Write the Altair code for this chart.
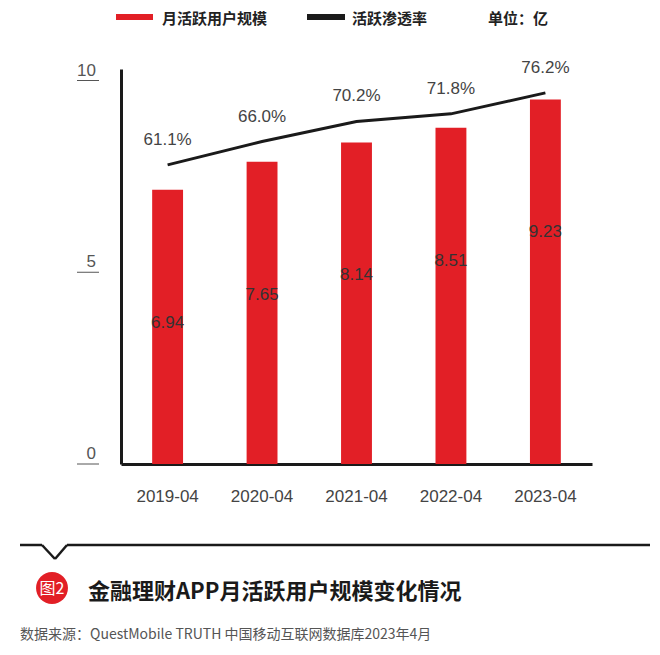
import altair as alt
import pandas as pd

months = ["2019-04", "2020-04", "2021-04", "2022-04", "2023-04"]
mau = [6.94, 7.65, 8.14, 8.51, 9.23]
penetration = [61.1, 66.0, 70.2, 71.8, 76.2]
y_ticks = [0, 5, 10]
legend_labels = ["月活跃用户规模", "活跃渗透率"]
unit_label = "单位：亿"
badge_text = "图2"
title_text = "金融理财APP月活跃用户规模变化情况"
source_text = "数据来源：QuestMobile TRUTH 中国移动互联网数据库2023年4月"

RED = "#E21F26"
BLACK = "#1a1a1a"
CJK = "Noto Sans CJK SC"
NUM = "Liberation Sans"

df = pd.DataFrame({"month": months, "mau": mau, "pen": penetration})
df["mau_label"] = [f"{v:.2f}" for v in mau]
df["pen_label"] = [f"{v:.1f}%" for v in penetration]

xenc = alt.X(
    "month:N", sort=months,
    scale=alt.Scale(paddingInner=0.673, paddingOuter=0.33),
    axis=alt.Axis(title=None, ticks=False, tickSize=0, labelPadding=24, labelAngle=0,
                  labelFont=NUM, labelFontSize=17, labelColor="#444",
                  domainColor=BLACK, domainWidth=3, grid=False),
)

bar_scale = alt.Scale(domain=[0, 10])
base = alt.Chart(df)

bars = base.mark_bar(color=RED).encode(
    x=xenc,
    y=alt.Y("mau:Q", scale=bar_scale,
            axis=alt.Axis(title=None, labels=False, ticks=False, grid=False,
                          domainColor=BLACK, domainWidth=3)),
)
bar_text = base.mark_text(font=NUM, fontSize=17, color="#333", baseline="middle", dy=133).encode(
    x=xenc,
    y=alt.Y("mau:Q", scale=bar_scale, axis=None),
    text="mau_label:N",
)

line_scale = alt.Scale(domain=[-1.6, 81.2])
line = base.mark_line(color=BLACK, strokeWidth=3).encode(
    x=xenc,
    y=alt.Y("pen:Q", scale=line_scale, axis=None),
)
line_text = base.mark_text(font=NUM, fontSize=17, color="#444", baseline="middle", dy=-25).encode(
    x=xenc,
    y=alt.Y("pen:Q", scale=line_scale, axis=None),
    text="pen_label:N",
)

# custom y tick labels with underline
tick_df = pd.DataFrame({"v": y_ticks, "t": [str(v) for v in y_ticks]})
tick_scale = alt.Scale(domain=[0, 10.3])
tick_text = alt.Chart(tick_df).mark_text(font=NUM, fontSize=17, color="#555",
                                         align="right", baseline="middle", dy=-10).encode(
    x=alt.value(-25),
    y=alt.Y("v:Q", scale=tick_scale, axis=None),
    text="t:N",
)
tick_rule = alt.Chart(tick_df).mark_rule(color="#555", strokeWidth=1).encode(
    x=alt.value(-44), x2=alt.value(-22),
    y=alt.Y("v:Q", scale=tick_scale, axis=None),
)

one = pd.DataFrame({"a": [0]})

def deco_text(txt, x, y, size, color, weight="normal", font=CJK, align="left"):
    return alt.Chart(pd.DataFrame({"t": [txt]})).mark_text(
        font=font, fontSize=size, color=color, fontWeight=weight,
        align=align, baseline="middle").encode(
        x=alt.value(x), y=alt.value(y), text="t:N")

def deco_rect(x, x2, y, y2, color):
    return alt.Chart(one).mark_rect(color=color).encode(
        x=alt.value(x), x2=alt.value(x2), y=alt.value(y), y2=alt.value(y2))

def deco_rule(x, y, x2, y2, color=BLACK, w=2.5):
    return alt.Chart(one).mark_rule(color=color, strokeWidth=w).encode(
        x=alt.value(x), y=alt.value(y), x2=alt.value(x2), y2=alt.value(y2))

legend = [
    deco_rect(-5, 32, -55, -49, RED),
    deco_text(legend_labels[0], 41, -50, 15, "#222", "bold"),
    deco_rect(186, 224, -55, -49, BLACK),
    deco_text(legend_labels[1], 231, -50, 15, "#222", "bold"),
    deco_text(unit_label, 367, -50, 15, "#222", "bold"),
]

footer = [
    deco_rule(-101, 476, -79, 476),
    deco_rule(-79, 476, -66, 490),
    deco_rule(-66, 490, -54, 476),
    deco_rule(-54, 476, 529, 476),
    alt.Chart(one).mark_circle(color=RED, opacity=1, size=1018).encode(
        x=alt.value(-69), y=alt.value(519)),
    deco_text(badge_text, -69, 520, 16, "white", "normal", align="center"),
    deco_text(title_text, -33, 523, 22, "#1a1a1a", "bold"),
    deco_text(source_text, -101, 566, 14, "#555"),
]

chart = alt.layer(
    bars, bar_text, line, line_text, tick_text, tick_rule, *legend, *footer
).resolve_scale(y="independent").properties(
    width=471, height=395,
    autosize=alt.AutoSizeParams(type="none"),
    padding={"left": 113, "top": 61, "right": 60, "bottom": 183},
    background="white",
).configure_view(strokeWidth=0)

chart.save("out.html", embed_options={"renderer": "svg", "actions": False})
